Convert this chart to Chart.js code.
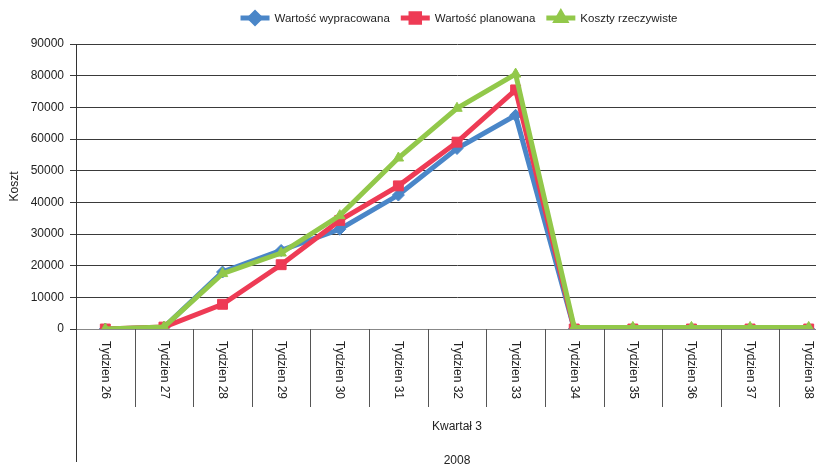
<!DOCTYPE html>
<html>
<head>
<meta charset="utf-8">
<script src="https://cdn.jsdelivr.net/npm/chart.js@4"></script>
<style>
  html, body { margin: 0; padding: 0; background: #fff; overflow: hidden; }
  #wrap { width: 846px; height: 466px; }
</style>
</head>
<body>
<div id="wrap"><canvas id="chart"></canvas></div>
<script>
const weeks = ['Tydzien 26', 'Tydzien 27', 'Tydzien 28', 'Tydzien 29', 'Tydzien 30', 'Tydzien 31', 'Tydzien 32',
  'Tydzien 33', 'Tydzien 34', 'Tydzien 35', 'Tydzien 36', 'Tydzien 37', 'Tydzien 38'];
const quarterLabel = 'Kwartał 3';
const yearLabel = '2008';
const yTitle = 'Koszt';

const earnedValue = [0, 500, 18000, 24800, 31500, 42300, 57000, 67500, 0, 0, 0, 0, 0];
const plannedValue = [0, 600, 7800, 20300, 34300, 45200, 59000, 75500, 0, 0, 0, 0, 0];
const actualCost = [0, 600, 17500, 24000, 35800, 54000, 69700, 80500, 500, 500, 500, 500, 500];

const FONT = '"Liberation Sans", Arial, sans-serif';
const FSIZE = 12;
const TEXT = '#222';
const BLUE = '#4a86c8', RED = '#ee3b55', GREEN = '#92c84a';

const markerRadius = { rectRot: 6, rect: 7, triangle: 6 };
const legendRadius = { rectRot: 5, rect: 6, triangle: 5 };

function series(label, data, color, style, order) {
  return {
    label, data, order,
    borderColor: color, backgroundColor: color,
    borderWidth: 5,
    pointStyle: style, pointRadius: markerRadius[style],
    pointBackgroundColor: color, pointBorderColor: color, pointBorderWidth: 1,
    tension: 0, fill: false
  };
}

// legend with line + marker, and the two-level category axis
const extrasPlugin = {
  id: 'extras',
  afterDraw(chart) {
    const { ctx, chartArea, scales } = chart;
    const x = scales.x;
    const bottom = chartArea.bottom;
    const step = x.getPixelForValue(1) - x.getPixelForValue(0);
    ctx.save();

    // category separators
    ctx.strokeStyle = '#555';
    ctx.lineWidth = 1;
    for (let i = 1; i <= weeks.length; i++) {
      const px = Math.round(x.getPixelForValue(i) - step / 2) + 0.5;
      ctx.beginPath();
      ctx.moveTo(px, bottom);
      ctx.lineTo(px, 407);
      ctx.stroke();
    }
    // left axis extends down through all levels
    ctx.strokeStyle = '#333';
    ctx.beginPath();
    ctx.moveTo(chartArea.left + 0.5, bottom);
    ctx.lineTo(chartArea.left + 0.5, 462);
    ctx.stroke();

    // rotated week labels
    ctx.fillStyle = TEXT;
    ctx.font = FSIZE + 'px ' + FONT;
    ctx.textAlign = 'left';
    ctx.textBaseline = 'middle';
    weeks.forEach((w, i) => {
      ctx.save();
      ctx.translate(x.getPixelForValue(i), 341);
      ctx.rotate(Math.PI / 2);
      ctx.fillText(w, 0, 0);
      ctx.restore();
    });

    const mid = (chartArea.left + chartArea.right) / 2;
    ctx.textAlign = 'center';
    ctx.fillText(quarterLabel, mid, 427);
    ctx.fillText(yearLabel, mid, 461);

    // legend
    const items = chart.data.datasets.slice().sort((a, b) => b.order - a.order);
    const lineLen = 29, gap = 5, between = 11;
    ctx.font = '11.5px ' + FONT;
    let total = 0;
    items.forEach((d, i) => {
      total += lineLen + gap + ctx.measureText(d.label).width + (i < items.length - 1 ? between : 0);
    });
    let lx = mid + 2 - total / 2;
    const ly = 18;
    items.forEach(d => {
      ctx.strokeStyle = d.borderColor;
      ctx.lineWidth = 5;
      ctx.beginPath();
      ctx.moveTo(lx, ly);
      ctx.lineTo(lx + lineLen, ly);
      ctx.stroke();
      Chart.helpers.drawPoint(ctx, {
        pointStyle: d.pointStyle, radius: legendRadius[d.pointStyle], borderWidth: 1, rotation: 0
      }, lx + lineLen / 2, ly);
      ctx.fillStyle = d.borderColor;
      ctx.fill();
      ctx.fillStyle = TEXT;
      ctx.textAlign = 'left';
      ctx.fillText(d.label, lx + lineLen + gap, ly + 1);
      lx += lineLen + gap + ctx.measureText(d.label).width + between;
    });
    ctx.restore();
  }
};

new Chart(document.getElementById('chart'), {
  type: 'line',
  data: {
    labels: weeks,
    datasets: [
      series('Wartość wypracowana', earnedValue, BLUE, 'rectRot', 3),
      series('Wartość planowana', plannedValue, RED, 'rect', 2),
      series('Koszty rzeczywiste', actualCost, GREEN, 'triangle', 1)
    ]
  },
  options: {
    responsive: true,
    maintainAspectRatio: false,
    animation: false,
    layout: { padding: { top: 44, right: 5, left: 0, bottom: 0 } },
    plugins: { legend: { display: false }, tooltip: { enabled: false } },
    scales: {
      x: {
        offset: true,
        grid: { display: false },
        ticks: { display: false },
        border: { color: '#888', width: 1 },
        afterFit: s => { s.height = 137; }
      },
      y: {
        min: 0, max: 90000,
        ticks: {
          stepSize: 10000, color: TEXT, padding: 6,
          font: { family: FONT, size: FSIZE },
          callback: v => String(v)
        },
        grid: { color: '#3a3a3a', lineWidth: 1, tickLength: 6 },
        border: { color: '#333', width: 1 },
        title: { display: true, text: yTitle, color: TEXT, padding: { top: 7, bottom: 0 }, font: { family: FONT, size: FSIZE } },
        afterFit: s => { s.width = 76; }
      }
    }
  },
  plugins: [extrasPlugin]
});
</script>
</body>
</html>
